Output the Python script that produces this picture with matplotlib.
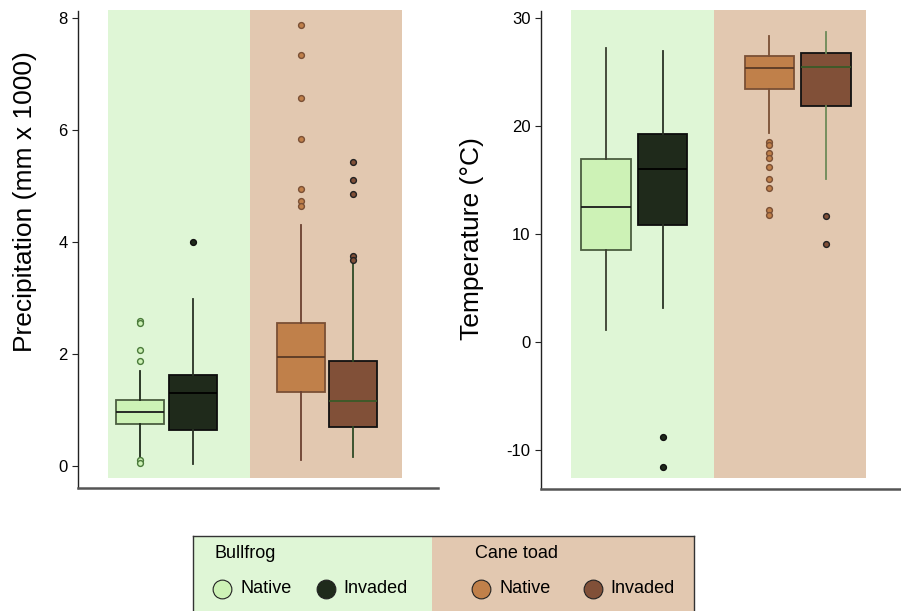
import matplotlib
matplotlib.use('Agg')
import matplotlib.pyplot as plt
from matplotlib.patches import Rectangle

plt.rcParams['font.family'] = ['Liberation Sans', 'DejaVu Sans']
plt.rcParams['axes.unicode_minus'] = False

# groups: bullfrog native, bullfrog invaded, cane toad native, cane toad invaded
groups = ['Bullfrog native', 'Bullfrog invaded', 'Cane toad native', 'Cane toad invaded']

# precipitation (mm x 1000): q1, median, q3, whisker low, whisker high
prec_q1 = [0.75, 0.64, 1.33, 0.70]
prec_med = [0.96, 1.30, 1.95, 1.16]
prec_q3 = [1.18, 1.63, 2.55, 1.88]
prec_wlo = [0.15, 0.03, 0.11, 0.155]
prec_whi = [1.70, 2.99, 4.31, 3.62]
prec_out = [
    [2.59, 2.55, 2.07, 1.88, 0.10, 0.06],
    [4.0],
    [7.88, 7.34, 6.58, 5.84, 4.94, 4.73, 4.65],
    [5.42, 5.11, 4.85, 3.75, 3.67],
]

# temperature (deg C)
temp_q1 = [8.5, 10.79, 23.39, 21.87]
temp_med = [12.48, 15.98, 25.34, 25.43]
temp_q3 = [16.9, 19.25, 26.48, 26.73]
temp_wlo = [1.08, 3.09, 19.31, 15.05]
temp_whi = [27.2, 26.94, 28.36, 28.67]
temp_out = [
    [],
    [-8.8, -11.58],
    [18.54, 18.2, 17.46, 17.05, 16.22, 15.05, 14.22, 12.2, 11.74],
    [11.65, 9.08],
]

# styles
bg_green = '#dff6d6'
bg_brown = '#e2c8b0'
fills = ['#cdf2b6', '#1f2a1b', '#c0804a', '#815038']
edges = ['#4b5e40', '#0d0d0d', '#7a5035', '#111111']
medians = ['#1a1a1a', '#000000', '#5a3a25', '#3a5a28']
whisk_left = ['#1f2a1b', '#2a3325', '#6b4030', '#2f4a25']
whisk_right = ['#3a4030', '#2a3325', '#7a5035', '#6d8a58']
out_edges = ['#4a7a3a', '#111111', '#7a5035', '#222222']

fig = plt.figure(figsize=(9.01, 6.11), dpi=100)
ax1 = fig.add_axes([78 / 901, 1 - 488 / 611, 360 / 901, 477 / 611])
ax2 = fig.add_axes([541 / 901, 1 - 489 / 611, 359 / 901, 478 / 611])


def draw_panel(ax, q1, med, q3, wlo, whi, outl, positions, width, wcols,
               ylim, xlim, bg_edges, bg_y):
    ax.add_patch(Rectangle((bg_edges[0], bg_y[0]), bg_edges[1] - bg_edges[0],
                           bg_y[1] - bg_y[0], facecolor=bg_green,
                           edgecolor='none', zorder=0, clip_on=False))
    ax.add_patch(Rectangle((bg_edges[1], bg_y[0]), bg_edges[2] - bg_edges[1],
                           bg_y[1] - bg_y[0], facecolor=bg_brown,
                           edgecolor='none', zorder=0, clip_on=False))
    for i in range(4):
        stats = [{'q1': q1[i], 'med': med[i], 'q3': q3[i],
                  'whislo': wlo[i], 'whishi': whi[i], 'fliers': outl[i]}]
        ax.bxp(stats, positions=[positions[i]], widths=width,
               patch_artist=True, showcaps=False,
               boxprops=dict(facecolor=fills[i], edgecolor=edges[i], linewidth=1.3),
               medianprops=dict(color=medians[i], linewidth=1.3),
               whiskerprops=dict(color=wcols[i], linewidth=1.3),
               flierprops=dict(marker='o', markersize=4.2, markerfacecolor=fills[i],
                               markeredgecolor=out_edges[i], markeredgewidth=1.0),
               manage_ticks=False)
    ax.set_xlim(xlim)
    ax.set_ylim(ylim)
    ax.set_xticks([])
    ax.spines['top'].set_visible(False)
    ax.spines['right'].set_visible(False)
    ax.spines['left'].set_color('#222222')
    ax.spines['left'].set_linewidth(1.0)
    ax.spines['bottom'].set_color('#555555')
    ax.spines['bottom'].set_linewidth(1.8)
    ax.tick_params(axis='y', labelsize=12, length=4, width=0.8, color='#222222')
    ax.set_facecolor('none')


draw_panel(ax1, prec_q1, prec_med, prec_q3, prec_wlo, prec_whi, prec_out,
           [1, 2, 4.02, 5.0], 0.9, whisk_left, (-0.393, 8.125), (-0.16, 6.59),
           [0.40, 3.06, 5.92], (-0.214, 8.14))
ax1.set_yticks([0, 2, 4, 6, 8])
ax1.text(-0.147, 0.60, 'Precipitation (mm x 1000)', rotation=90, ha='center',
         va='center', fontsize=19, transform=ax1.transAxes)

draw_panel(ax2, temp_q1, temp_med, temp_q3, temp_wlo, temp_whi, temp_out,
           [1, 2, 3.885, 4.89], 0.87, whisk_right, (-13.65, 30.65), (-0.15, 6.2),
           [0.38, 2.91, 5.60], (-12.63, 30.74))
ax2.set_yticks([-10, 0, 10, 20, 30])
ax2.text(-0.192, 0.524, 'Temperature (°C)', rotation=90, ha='center',
         va='center', fontsize=19, transform=ax2.transAxes)

# legend panel
leg = fig.add_axes([193 / 901, 0, 501 / 901, 75 / 611])
leg.set_xlim(0, 1)
leg.set_ylim(0, 1)
leg.set_xticks([])
leg.set_yticks([])
leg.add_patch(Rectangle((0, 0), 0.477, 1, facecolor=bg_green, edgecolor='none'))
leg.add_patch(Rectangle((0.477, 0), 0.523, 1, facecolor=bg_brown, edgecolor='none'))
for s in ['top', 'left', 'right']:
    leg.spines[s].set_color('#333333')
    leg.spines[s].set_linewidth(1.0)
leg.spines['bottom'].set_visible(False)

leg.text(0.042, 0.76, 'Bullfrog', fontsize=13, va='center', ha='left')
leg.text(0.563, 0.76, 'Cane toad', fontsize=13, va='center', ha='left')
leg_x = [0.058, 0.265, 0.575, 0.798]
leg_labels = ['Native', 'Invaded', 'Native', 'Invaded']
for i in range(4):
    leg.plot(leg_x[i], 0.30, marker='o', markersize=13.5, markerfacecolor=fills[i],
             markeredgecolor='#222222', markeredgewidth=0.8)
    leg.text(leg_x[i] + 0.036, 0.30, leg_labels[i], fontsize=13, va='center', ha='left')

plt.savefig('out.png', dpi=100)
